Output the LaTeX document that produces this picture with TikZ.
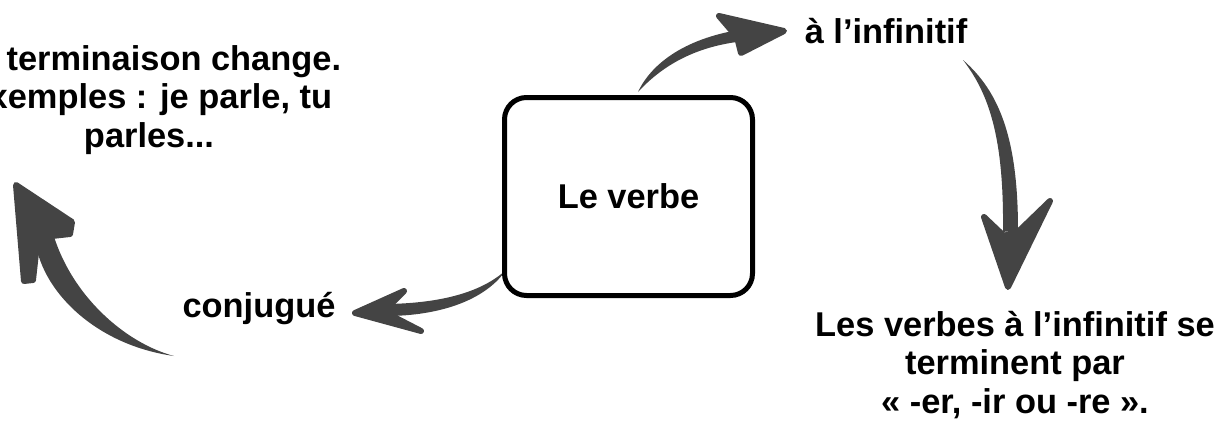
\documentclass[tikz,border=0pt]{standalone}
\usepackage{fontspec}
\setmainfont{Liberation Sans}
\definecolor{arrowgray}{HTML}{444444}
\begin{document}
\begin{tikzpicture}[x=1pt,y=-1pt,
  lbl/.style={font=\fontsize{34.4}{38.5}\selectfont\bfseries, inner sep=0pt, align=center},
  bodyfill/.style={fill=arrowgray},
  headfill/.style={fill=arrowgray, draw=arrowgray, line width=6pt, line join=round}]
\useasboundingbox (0,0) rectangle (1224,434);

% text labels (anchor=base is the baseline of the last line)
\node[lbl, anchor=base] (inf) at (886,43) {à l’infinitif};
\node[lbl, anchor=base] (conj) at (259,317) {conjugué};
\node[lbl, anchor=base] (term) at (149,147) {La terminaison change.\\Exemples : je parle, tu\\parles...};
\node[lbl, anchor=base] (fin) at (1015,413) {Les verbes à l’infinitif se\\terminent par\\« -er, -ir ou -re ».};

% arrow coordinates
\coordinate (a1tail) at (638,92);
\coordinate (a1tip) at (784,31);
\coordinate (a2tail) at (963,60);
\coordinate (a2tip) at (1008,287);
\coordinate (a3tail) at (506,270);
\coordinate (a3tip) at (355,313);
\coordinate (a4tail) at (174,356);
\coordinate (a4tip) at (16,185);

% arrow 1: box -> à l'infinitif
\fill[bodyfill] (a1tail) .. controls (652,62) and (688,37) .. (745,29) -- (745,41)
  .. controls (695,46) and (662,66) .. (a1tail) -- cycle;
\filldraw[headfill] (a1tip) -- (719,16) -- (737,37) -- (741,53) -- cycle;

% arrow 2: à l'infinitif -> Les verbes ...
\fill[bodyfill] (a2tail) .. controls (990,95) and (1004,140) .. (1003,232) -- (1018,230)
  .. controls (1018,140) and (1000,92) .. (a2tail) -- cycle;
\filldraw[headfill] (a2tip) -- (984,217) -- (1004,236) -- (1020,230) -- (1050,201) -- cycle;

% arrow 3: box -> conjugué
\fill[bodyfill] (a3tail) .. controls (482,292) and (442,303) .. (388,304) -- (390,316)
  .. controls (445,315) and (487,298) .. (a3tail) -- cycle;
\filldraw[headfill] (a3tip) -- (404,291) -- (390,305) -- (392,316) -- (421,331) -- cycle;

% arrow 4: conjugué -> terminaison
\fill[bodyfill] (a4tail) .. controls (125,343) and (70,295) .. (52,230) -- (35,238)
  .. controls (40,290) and (95,345) .. (a4tail) -- cycle;
\filldraw[headfill] (a4tip) -- (24,281) -- (33,280) -- (37,244) -- (52,236) -- (70,234) -- (72,222) -- cycle;

% central box
\node[draw, line width=5pt, rounded corners=22pt, minimum width=248pt, minimum height=198pt,
  fill=none, lbl] (verbe) at (628.5,196.5) {Le verbe};
\end{tikzpicture}
\end{document}
